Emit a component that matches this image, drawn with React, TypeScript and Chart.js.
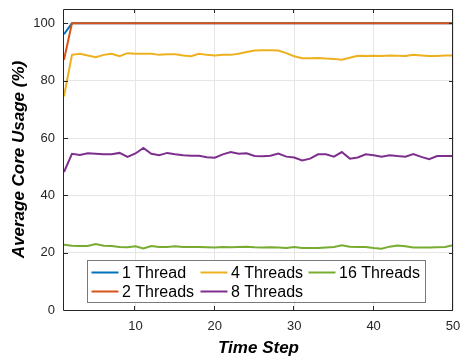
import React, { useEffect, useRef } from "react";
import { Chart, registerables } from "chart.js";

Chart.register(...registerables);

const timeSteps = [1,2,3,4,5,6,7,8,9,10,11,12,13,14,15,16,17,18,19,20,21,22,23,24,25,26,27,28,29,30,31,32,33,34,35,36,37,38,39,40,41,42,43,44,45,46,47,48,49,50];

const thread1 = [96.2,100,100,100,100,100,100,100,100,100,100,100,100,100,100,100,100,100,100,100,100,100,100,100,100,100,100,100,100,100,100,100,100,100,100,100,100,100,100,100,100,100,100,100,100,100,100,100,100,100];
const threads2 = [87.3,100,100,100,100,100,100,100,100,100,100,100,100,100,100,100,100,100,100,100,100,100,100,100,100,100,100,100,100,100,100,100,100,100,100,100,100,100,100,100,100,100,100,100,100,100,100,100,100,100];
const threads4 = [74.5,89.0,89.4,88.8,88.2,89.0,89.4,88.5,89.6,89.4,89.4,89.4,89.0,89.2,89.2,88.8,88.5,89.4,89.0,88.8,89.0,89.0,89.4,90.0,90.5,90.6,90.6,90.5,89.6,88.5,87.8,87.8,87.9,87.7,87.6,87.3,88.0,88.7,88.6,88.7,88.6,88.8,88.7,88.6,89.0,88.8,88.6,88.6,88.8,88.8];
const threads8 = [48.1,54.5,54.1,54.7,54.5,54.3,54.3,54.8,53.4,54.6,56.5,54.5,54.0,54.8,54.3,54.0,53.8,53.8,53.3,53.1,54.3,55.1,54.5,54.7,53.7,53.6,53.8,54.6,53.5,53.2,52.2,52.8,54.3,54.3,53.5,55.1,52.8,53.2,54.3,54.0,53.5,54.0,53.7,53.5,54.4,53.4,52.6,53.7,53.7,53.7];
const threads16 = [22.8,22.4,22.3,22.3,23.0,22.4,22.3,22.0,21.9,22.2,21.5,22.3,22.0,22.0,22.2,22.0,22.0,22.0,21.9,21.8,22.0,21.9,22.0,22.1,21.9,21.8,21.9,21.8,21.6,22.0,21.6,21.6,21.6,21.8,22.0,22.6,22.1,22.0,22.0,21.6,21.4,22.1,22.5,22.2,21.8,21.8,21.8,21.9,22.0,22.6];

const seriesLabels = ["1 Thread", "2 Threads", "4 Threads", "8 Threads", "16 Threads"];
const seriesColors = ["#0072BD", "#D95319", "#EDB120", "#7E2F8E", "#77AC30"];
const seriesData = [thread1, threads2, threads4, threads8, threads16];

const xTicks = [10, 20, 30, 40, 50];
const yTicks = [0, 20, 40, 60, 80, 100];

const FONT = "'Liberation Sans', Arial, Helvetica, sans-serif";

const boxPlugin = {
  id: "matlabBox",
  afterDraw(chart: any) {
    const { ctx, chartArea } = chart;
    const { left, right, top, bottom } = chartArea;
    const xs = chart.scales.x;
    const ys = chart.scales.y;
    ctx.save();
    ctx.strokeStyle = "#262626";
    ctx.lineWidth = 1;
    ctx.beginPath();
    ctx.rect(Math.round(left) - 0.5, Math.round(top) + 0.5, Math.round(right - left), Math.round(bottom - top));
    ctx.stroke();
    const tl = 4;
    ctx.beginPath();
    xTicks.forEach((v) => {
      const px = Math.round(xs.getPixelForValue(v)) - 0.5;
      ctx.moveTo(px, bottom);
      ctx.lineTo(px, bottom - tl);
      ctx.moveTo(px, top);
      ctx.lineTo(px, top + tl);
    });
    yTicks.forEach((v) => {
      const py = Math.round(ys.getPixelForValue(v)) + 0.5;
      ctx.moveTo(left, py);
      ctx.lineTo(left + tl, py);
      ctx.moveTo(right, py);
      ctx.lineTo(right - tl, py);
    });
    ctx.stroke();

    // legend
    const boxW = 338;
    const boxH = 42;
    const cx = (left + right) / 2 - 3;
    const bx = Math.round(cx - boxW / 2) + 0.5;
    const by = Math.round(bottom - 8 - boxH) + 0.5;
    ctx.fillStyle = "#ffffff";
    ctx.fillRect(bx, by, boxW, boxH);
    ctx.strokeStyle = "#7a7a7a";
    ctx.lineWidth = 1;
    ctx.strokeRect(bx, by, boxW, boxH);
    const colOffsets = [4, 113, 221];
    const rowOffsets = [12, 31];
    ctx.font = "16px " + FONT;
    ctx.textBaseline = "middle";
    ctx.textAlign = "left";
    seriesLabels.forEach((lab, i) => {
      const col = i < 2 ? 0 : i < 4 ? 1 : 2;
      const row = i === 4 ? 0 : i % 2;
      const lx = bx + colOffsets[col];
      const ly = by + rowOffsets[row];
      ctx.strokeStyle = seriesColors[i];
      ctx.lineWidth = 2;
      ctx.beginPath();
      ctx.moveTo(lx, ly);
      ctx.lineTo(lx + 27, ly);
      ctx.stroke();
      ctx.fillStyle = "#000000";
      ctx.fillText(lab, lx + 30.5, ly + 1);
    });
    ctx.restore();
  },
};

export default function App() {
  const canvasRef = useRef<HTMLCanvasElement | null>(null);

  useEffect(() => {
    document.body.style.margin = "0";
    const canvas = canvasRef.current;
    if (!canvas) return;
    const chart = new Chart(canvas, {
      type: "line",
      data: {
        labels: timeSteps,
        datasets: seriesLabels.map((lab, i) => ({
          label: lab,
          data: seriesData[i].map((v, j) => ({ x: timeSteps[j], y: v })),
          borderColor: seriesColors[i],
          backgroundColor: seriesColors[i],
          borderWidth: 2,
          pointRadius: 0,
          tension: 0,
          fill: false,
          order: seriesLabels.length - i,
        })),
      },
      options: {
        animation: false,
        responsive: false,
        maintainAspectRatio: false,
        layout: { padding: { top: 9, right: 8, left: 0, bottom: 0 } },
        plugins: {
          legend: { display: false },
          tooltip: { enabled: false },
        },
        scales: {
          x: {
            type: "linear",
            min: 1,
            max: 50,
            afterBuildTicks: (s: any) => {
              s.ticks = xTicks.map((v) => ({ value: v }));
            },
            afterFit: (s: any) => {
              s.height = 51;
              s.paddingLeft = 0;
              s.paddingRight = 0;
            },
            grid: { color: "#e6e6e6", lineWidth: 1, drawTicks: false },
            border: { display: false },
            ticks: {
              font: { family: FONT, size: 13 },
              color: "#262626",
              padding: 9,
              maxRotation: 0,
              callback: (v: any) => String(v),
            },
            title: {
              display: true,
              text: "Time Step",
              font: { family: FONT, size: 17, weight: "bold", style: "italic" },
              color: "#000000",
              padding: { top: 0, bottom: 2 },
            },
          },
          y: {
            type: "linear",
            min: 0,
            max: 105,
            afterBuildTicks: (s: any) => {
              s.ticks = yTicks.map((v) => ({ value: v }));
            },
            afterFit: (s: any) => {
              s.width = 64;
              s.paddingTop = 0;
              s.paddingBottom = 0;
            },
            grid: { color: "#e6e6e6", lineWidth: 1, drawTicks: false },
            border: { display: false },
            ticks: {
              font: { family: FONT, size: 13 },
              color: "#262626",
              padding: 9,
              callback: (v: any) => String(v),
            },
            title: {
              display: true,
              text: "Average Core Usage (%)",
              font: { family: FONT, size: 17, weight: "bold", style: "italic" },
              color: "#000000",
              padding: { top: 9, bottom: 0 },
            },
          },
        },
      },
      plugins: [boxPlugin],
    });
    return () => chart.destroy();
  }, []);

  return (
    <div style={{ position: "fixed", left: 0, top: 0, width: 461, height: 361, background: "#ffffff" }}>
      <canvas ref={canvasRef} width={461} height={361} style={{ width: 461, height: 361, display: "block" }} />
    </div>
  );
}
